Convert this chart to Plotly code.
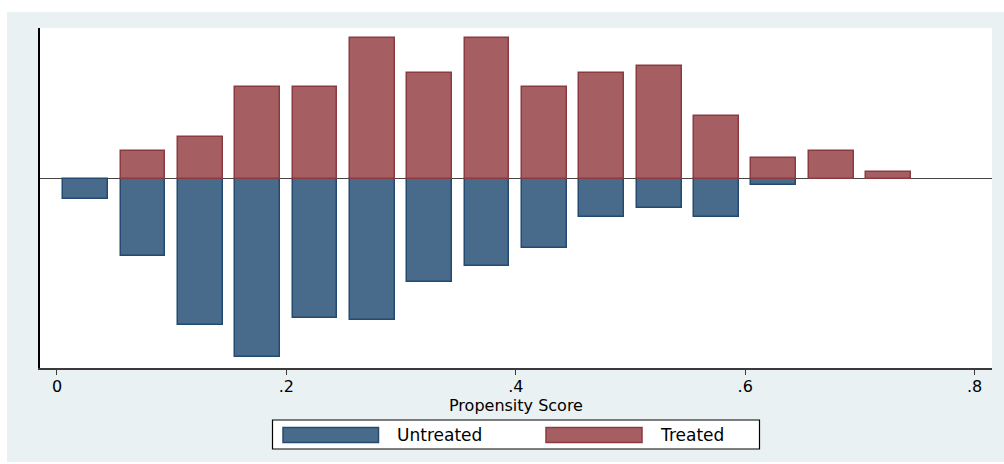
import plotly.graph_objects as go

# ---- data ----
bin_centers = [0.025, 0.075, 0.125, 0.175, 0.225, 0.275, 0.325, 0.375,
               0.425, 0.475, 0.525, 0.575, 0.625, 0.675, 0.725]
treated = [0, 4, 6, 13, 13, 20, 15, 20, 13, 15, 16, 9, 3, 4, 1]
untreated = [2.8, 11.0, 20.8, 25.3, 19.7, 20.1, 14.7, 12.3, 9.8, 5.35, 4.1, 5.35, 0.8, 0, 0]
tick_vals = [0, 0.2, 0.4, 0.6, 0.8]
tick_text = ["0", ".2", ".4", ".6", ".8"]
series_names = ["Untreated", "Treated"]
x_title = "Propensity Score"

# ---- styling ----
W, H = 1004, 464
L, R, T, B = 40, 12, 28, 96
PW, PH = W - L - R, H - T - B
BG = "#E9F1F3"
BLUE_FILL, BLUE_LINE = "#486B8B", "#234B72"
RED_FILL, RED_LINE = "#A55E62", "#8C3A41"
FONT = "DejaVu Sans"
FS = 16


def px(x):
    return (x - L) / PW


def py(y):
    return (H - B - y) / PH


fig = go.Figure()
fig.add_trace(go.Bar(
    x=bin_centers, y=[-v if v else None for v in untreated], width=0.039,
    name=series_names[0],
    marker=dict(color=BLUE_FILL, line=dict(color=BLUE_LINE, width=1.5)),
))
fig.add_trace(go.Bar(
    x=bin_centers, y=[v if v else None for v in treated], width=0.039,
    name=series_names[1],
    marker=dict(color=RED_FILL, line=dict(color=RED_LINE, width=1.5)),
))

shapes = [
    # white margins outside the light graph region
    dict(type="rect", xref="paper", yref="paper", layer="below",
         x0=px(0), x1=px(W), y0=py(12), y1=py(0),
         fillcolor="white", line=dict(width=0)),
    dict(type="rect", xref="paper", yref="paper", layer="below",
         x0=px(0), x1=px(7), y0=py(H), y1=py(0),
         fillcolor="white", line=dict(width=0)),
    dict(type="rect", xref="paper", yref="paper", layer="below",
         x0=px(0), x1=px(W), y0=py(H), y1=py(462),
         fillcolor="white", line=dict(width=0)),
    # legend box
    dict(type="rect", xref="paper", yref="paper",
         x0=px(272.5), x1=px(759.5), y0=py(449), y1=py(420),
         fillcolor="white", line=dict(color="black", width=1.2)),
    # legend swatches
    dict(type="rect", xref="paper", yref="paper",
         x0=px(283), x1=px(378.5), y0=py(442.5), y1=py(427.5),
         fillcolor=BLUE_FILL, line=dict(color=BLUE_LINE, width=1.5)),
    dict(type="rect", xref="paper", yref="paper",
         x0=px(546), x1=px(642), y0=py(442.5), y1=py(427.5),
         fillcolor=RED_FILL, line=dict(color=RED_LINE, width=1.5)),
]

annotations = [
    dict(text=series_names[0], xref="paper", yref="paper", x=px(395), y=py(435),
         xanchor="left", yanchor="middle", showarrow=False,
         font=dict(family=FONT, size=FS + 1, color="black")),
    dict(text=series_names[1], xref="paper", yref="paper", x=px(658), y=py(435),
         xanchor="left", yanchor="middle", showarrow=False,
         font=dict(family=FONT, size=FS + 1, color="black")),
    dict(text=x_title, xref="paper", yref="paper", x=0.5, y=py(405),
         xanchor="center", yanchor="middle", showarrow=False,
         font=dict(family=FONT, size=FS, color="black")),
]

fig.update_layout(
    width=W, height=H,
    margin=dict(l=L, r=R, t=T, b=B, pad=0),
    paper_bgcolor=BG, plot_bgcolor="white",
    barmode="relative", bargap=0,
    showlegend=False,
    shapes=shapes, annotations=annotations,
    font=dict(family=FONT, size=FS, color="black"),
    xaxis=dict(
        range=[-0.0148, 0.8152], tickvals=tick_vals, ticktext=tick_text,
        showgrid=False, zeroline=False,
        showline=True, linecolor="#3a3a3a", linewidth=1.5,
        ticks="outside", ticklen=5, tickwidth=1.2, tickcolor="#3a3a3a",
        ticklabelstandoff=-2,
        tickfont=dict(family=FONT, size=FS, color="black"),
    ),
    yaxis=dict(
        range=[-26.85, 21.45], showticklabels=False, ticks="",
        showgrid=False, zeroline=True, zerolinecolor="#444444", zerolinewidth=1.2,
        showline=True, linecolor="black", linewidth=2,
    ),
)

fig.write_html("out.html", config={"displayModeBar": False},
               post_script="document.body.style.margin='0';")
